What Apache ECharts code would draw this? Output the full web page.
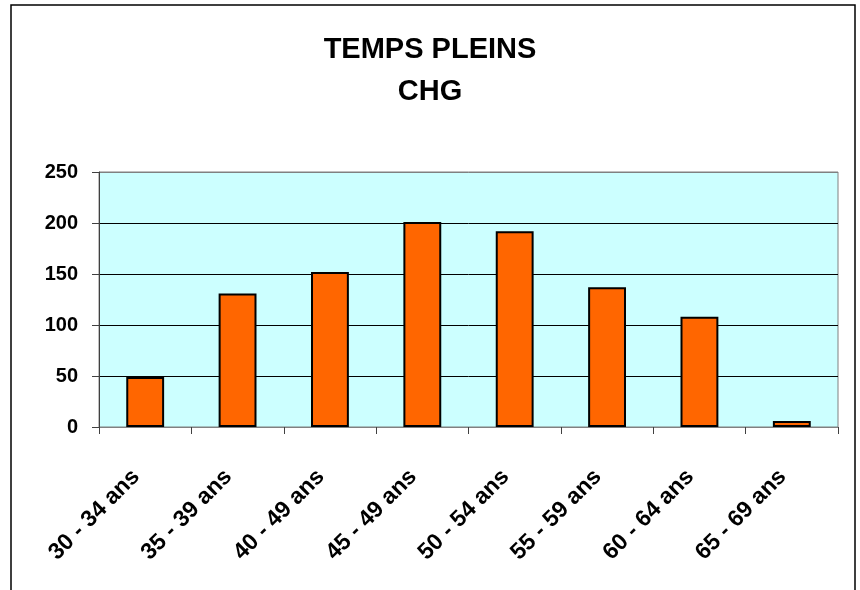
<!DOCTYPE html>
<html>
<head>
<meta charset="utf-8">
<script src="https://cdn.jsdelivr.net/npm/echarts@6/dist/echarts.min.js"></script>
<style>
  html, body { margin: 0; padding: 0; background: #fff; }
  #chart { width: 860px; height: 590px; }
</style>
</head>
<body>
<div id="chart"></div>
<script>
// Age bands and full-time headcount per band
const categories = ['30 - 34 ans', '35 - 39 ans', '40 - 49 ans', '45 - 49 ans', '50 - 54 ans', '55 - 59 ans', '60 - 64 ans', '65 - 69 ans'];
const effectifs = [49, 131, 152, 201, 192, 137, 108, 6];
const yTicks = { min: 0, max: 250, interval: 50 };

const FONT = '"Liberation Sans", Arial, sans-serif';

const chart = echarts.init(document.getElementById('chart'), null, { renderer: 'canvas' });

chart.setOption({
  backgroundColor: '#ffffff',
  animation: false,
  title: {
    text: 'TEMPS PLEINS\nCHG',
    left: 'center',
    top: 24,
    textStyle: {
      fontFamily: FONT,
      fontWeight: 'bold',
      fontSize: 29,
      lineHeight: 42,
      color: '#000',
      align: 'center'
    }
  },
  graphic: [{
    type: 'rect',
    shape: { x: 11, y: 5, width: 844, height: 600 },
    style: { fill: 'none', stroke: '#000', lineWidth: 1.5 },
    silent: true,
    z: -1
  }],
  grid: {
    left: 99,
    right: 22,
    top: 172,
    bottom: 163,
    show: true,
    backgroundColor: '#CCFFFF',
    borderColor: '#808080',
    borderWidth: 1
  },
  xAxis: {
    type: 'category',
    data: categories,
    boundaryGap: true,
    axisLine: { show: true, lineStyle: { color: '#808080', width: 1 } },
    axisTick: { show: true, alignWithLabel: false, length: 7, lineStyle: { color: '#404040' } },
    axisLabel: {
      interval: 0,
      rotate: 45,
      margin: 37,
      padding: [0, 13, 0, 0],
      fontFamily: FONT,
      fontWeight: 'bold',
      fontSize: 23,
      color: '#000'
    },
    splitLine: { show: false }
  },
  yAxis: {
    type: 'value',
    min: yTicks.min,
    max: yTicks.max,
    interval: yTicks.interval,
    axisLine: { show: true, lineStyle: { color: '#404040', width: 1 } },
    axisTick: { show: true, length: 7, lineStyle: { color: '#404040' } },
    axisLabel: {
      margin: 21,
      fontFamily: FONT,
      fontWeight: 'bold',
      fontSize: 20,
      color: '#000'
    },
    splitLine: {
      show: true,
      lineStyle: { color: ['#808080', '#000', '#000', '#000', '#000', '#808080'], width: 1 }
    }
  },
  series: [{
    type: 'bar',
    data: effectifs,
    barWidth: '41%',
    itemStyle: {
      color: '#FF6600',
      borderColor: '#000',
      borderWidth: 2
    }
  }]
});
</script>
</body>
</html>
